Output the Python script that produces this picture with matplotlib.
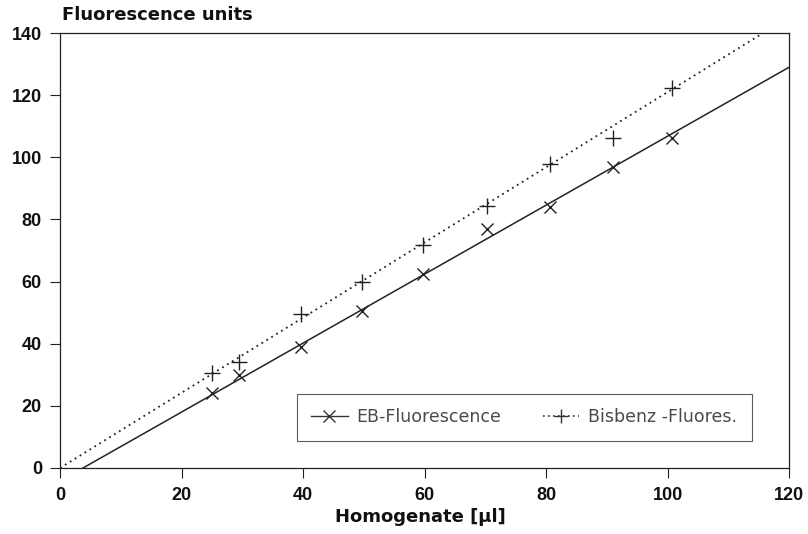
import numpy as np
import matplotlib
matplotlib.use("Agg")
import matplotlib.pyplot as plt

# measured points (homogenate volume in ul vs fluorescence units)
eb_x = [25, 29.5, 39.7, 49.7, 59.8, 70.3, 80.7, 91, 100.7]
eb_y = [24.1, 30, 39, 50.5, 62.4, 77, 84, 97, 106.2]
bis_x = [25, 29.5, 39.7, 49.7, 59.8, 70.3, 80.7, 91, 100.7]
bis_y = [30.6, 34, 49.6, 60, 71.8, 84.3, 97.8, 106.2, 122.3]

# regression lines: y = slope * x + intercept
eb_fit = (1.11, -4.2)
bis_fit = (1.21, 0.0)

x_ticks = [0, 20, 40, 60, 80, 100, 120]
y_ticks = [0, 20, 40, 60, 80, 100, 120, 140]

plt.rcParams['font.family'] = ['Liberation Sans', 'DejaVu Sans']

fig = plt.figure(figsize=(8.08, 5.34), dpi=100)
ax = fig.add_axes([0.0743, 0.1236, 0.9022, 0.8144])

# fit lines
xs = np.linspace(-eb_fit[1] / eb_fit[0], 120, 50)
ax.plot(xs, eb_fit[0] * xs + eb_fit[1], color='#222222', lw=1.1, ls='-')
xs2 = np.linspace(0, 120, 50)
ax.plot(xs2, bis_fit[0] * xs2 + bis_fit[1], color='#222222', lw=1.3,
        ls=(0, (1, 2.2)))

# markers
ax.plot(eb_x, eb_y, ls='none', marker='x', ms=9, mew=1.0, color='#222222')
ax.plot(bis_x, bis_y, ls='none', marker='+', ms=11, mew=1.0, color='#222222')

# legend drawn as proxies
h1, = ax.plot([], [], color='#333333', lw=1.0, marker='x', ms=8, mew=1.0)
h2, = ax.plot([], [], color='#333333', lw=1.2, ls=(0, (1, 2)), marker='+',
              ms=10, mew=1.0)
leg = ax.legend([h1, h2], ['EB-Fluorescence', 'Bisbenz -Fluores.'], ncol=2,
                loc='lower right', bbox_to_anchor=(0.949, 0.062),
                borderaxespad=0, frameon=True, fancybox=False,
                edgecolor='#333333', handlelength=2.1, columnspacing=2.4,
                borderpad=0.85, handletextpad=0.5,
                prop={'family': 'DejaVu Sans', 'size': 12.5})
leg.get_frame().set_linewidth(0.8)
for t in leg.get_texts():
    t.set_color('#4a4a4a')

ax.set_xlim(0, 120)
ax.set_ylim(0, 140)
ax.set_xticks(x_ticks)
ax.set_yticks(y_ticks)
ax.tick_params(direction='out', length=7, width=0.8, colors='#222222',
               labelsize=13)
ax.tick_params(axis='x', pad=7)
ax.tick_params(axis='y', pad=6)
for lab in ax.get_xticklabels() + ax.get_yticklabels():
    lab.set_fontweight('bold')
    lab.set_color('#111111')
for s in ax.spines.values():
    s.set_linewidth(0.9)
    s.set_color('#222222')

fig.text(0.077, 0.972, 'Fluorescence units', fontsize=13, fontweight='bold',
         family='DejaVu Sans', ha='left', va='center', color='#111111')
fig.text(0.52, 0.032, 'Homogenate [µl]', fontsize=13, fontweight='bold',
         family='DejaVu Sans', ha='center', va='center', color='#111111')

fig.savefig('out.png', dpi=100)
